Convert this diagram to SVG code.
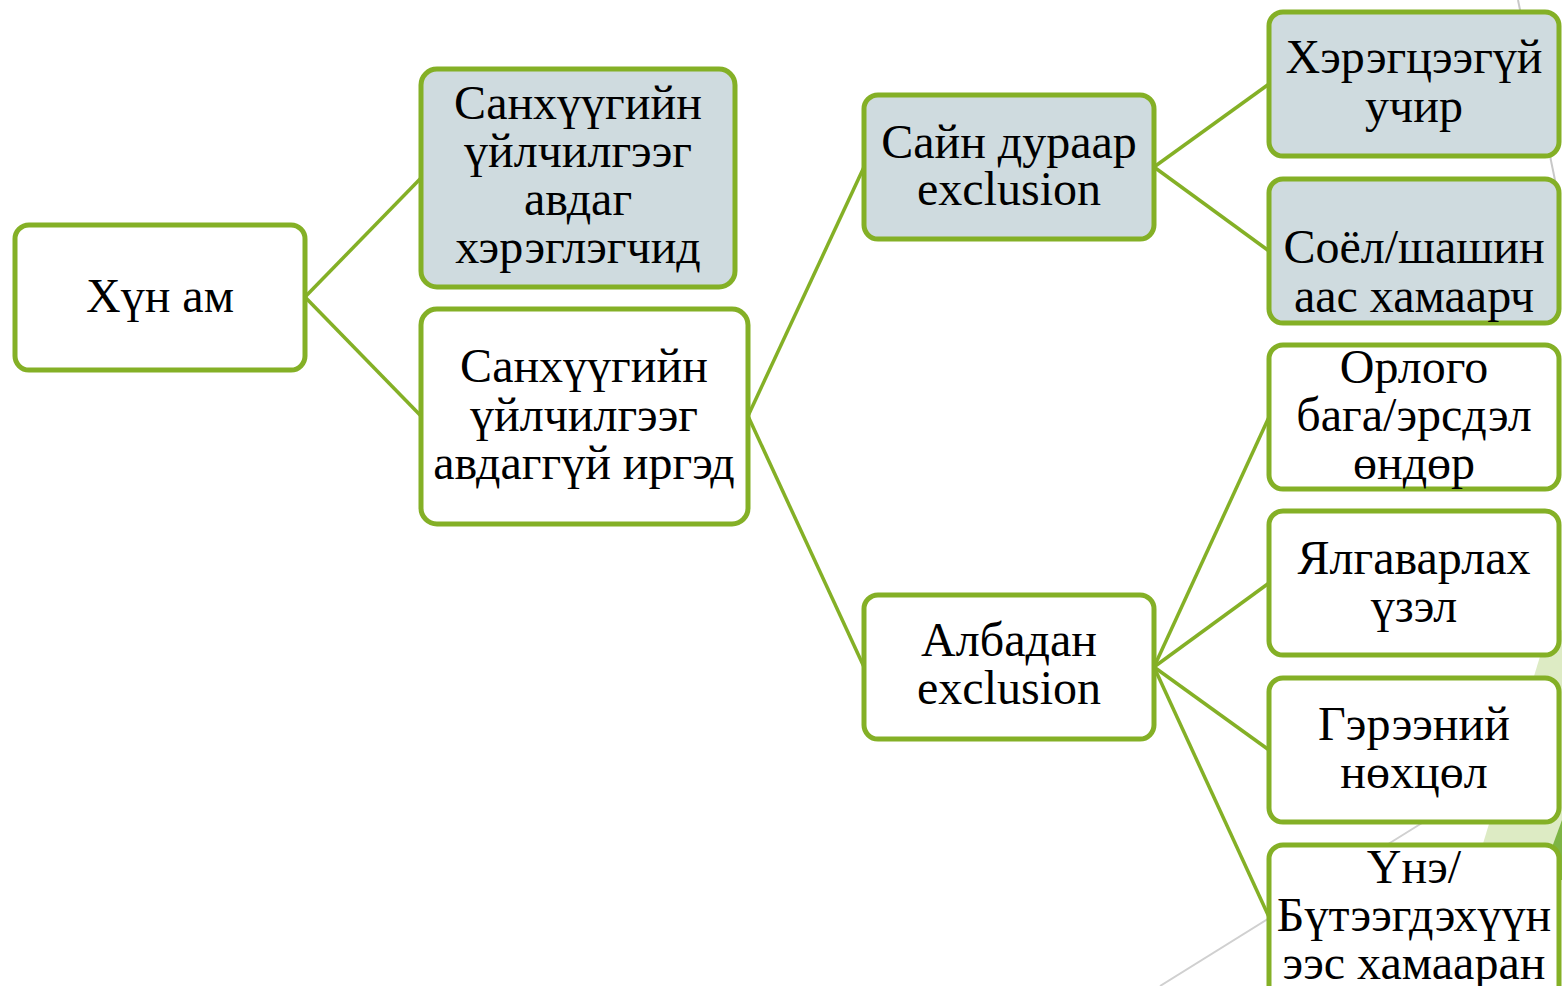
<svg xmlns="http://www.w3.org/2000/svg" width="1562" height="986" viewBox="0 0 1562 986">
<style>
.n rect{stroke:#84B026;stroke-width:5}
.w{fill:#FFFFFF}
.g{fill:#CFDBDF}
text{font-family:"Liberation Serif","Times New Roman",serif;font-size:48px;fill:#000;text-anchor:middle}
.c line{stroke:#84B026;stroke-width:3.5}
</style>
<rect width="1562" height="986" fill="#FFFFFF"/>
<g id="background">
<line x1="1518" y1="0" x2="1556" y2="185" stroke="#C8C8C8" stroke-width="2"/>
<line x1="1160" y1="986" x2="1430" y2="818" stroke="#D0D0D0" stroke-width="2"/>
<polygon points="1545,640 1562,630 1562,860 1478,860" fill="#DDEBC4"/>
<polygon points="1562,820 1562,880 1540,880" fill="#7DB444"/>
</g>
<g class="c" id="connectors">
<line x1="305" y1="297" x2="421" y2="178"/>
<line x1="305" y1="297" x2="421" y2="416"/>
<line x1="748" y1="416" x2="864" y2="167"/>
<line x1="748" y1="416" x2="864" y2="667"/>
<line x1="1154" y1="167" x2="1269" y2="84"/>
<line x1="1154" y1="167" x2="1269" y2="251"/>
<line x1="1154" y1="667" x2="1269" y2="417"/>
<line x1="1154" y1="667" x2="1269" y2="583"/>
<line x1="1154" y1="667" x2="1269" y2="750"/>
<line x1="1154" y1="667" x2="1269" y2="917"/>
</g>
<g class="n" id="n0"><rect class="w" x="15" y="225" width="290" height="145" rx="14"/><text x="160" y="312">Хүн ам</text></g>
<g class="n" id="n1"><rect class="g" x="421" y="69" width="314" height="218" rx="16"/><text x="578" y="119">Санхүүгийн</text><text x="578" y="167">үйлчилгээг</text><text x="578" y="215">авдаг</text><text x="578" y="263">хэрэглэгчид</text></g>
<g class="n" id="n2"><rect class="w" x="421" y="309" width="327" height="215" rx="16"/><text x="584" y="382">Санхүүгийн</text><text x="584" y="431">үйлчилгээг</text><text x="584" y="479">авдаггүй иргэд</text></g>
<g class="n" id="n3"><rect class="g" x="864" y="95" width="290" height="144" rx="14"/><text x="1009" y="158">Сайн дураар</text><text x="1009" y="205">exclusion</text></g>
<g class="n" id="n4"><rect class="w" x="864" y="595" width="290" height="144" rx="14"/><text x="1009" y="656">Албадан</text><text x="1009" y="704">exclusion</text></g>
<g class="n" id="n5"><rect class="g" x="1269" y="12" width="290" height="144" rx="14"/><text x="1414" y="73">Хэрэгцээгүй</text><text x="1414" y="122">учир</text></g>
<g class="n" id="n6"><rect class="g" x="1269" y="179" width="290" height="144" rx="14"/><text x="1414" y="263">Соёл/шашин</text><text x="1414" y="312">аас хамаарч</text></g>
<g class="n" id="n7"><rect class="w" x="1269" y="345" width="290" height="144" rx="14"/><text x="1414" y="383">Орлого</text><text x="1414" y="431">бага/эрсдэл</text><text x="1414" y="479">өндөр</text></g>
<g class="n" id="n8"><rect class="w" x="1269" y="511" width="290" height="144" rx="14"/><text x="1414" y="574">Ялгаварлах</text><text x="1414" y="622">үзэл</text></g>
<g class="n" id="n9"><rect class="w" x="1269" y="678" width="290" height="144" rx="14"/><text x="1414" y="740">Гэрээний</text><text x="1414" y="788">нөхцөл</text></g>
<g class="n" id="n10"><rect class="w" x="1269" y="845" width="290" height="160" rx="14"/><text x="1414" y="883">Үнэ/</text><text x="1414" y="931">Бүтээгдэхүүн</text><text x="1414" y="979">ээс хамааран</text></g>
</svg>
